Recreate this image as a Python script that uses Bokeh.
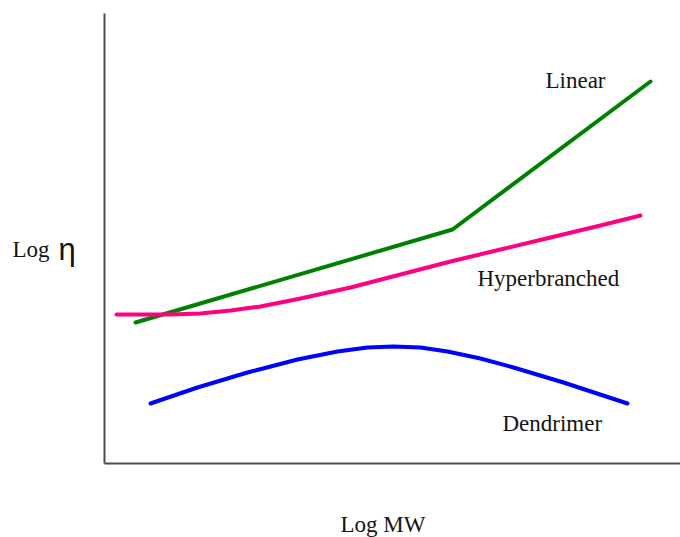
from bokeh.plotting import figure
from bokeh.models import Range1d, Label, FixedTicker, LinearAxis
from bokeh.embed import file_html
from bokeh.resources import INLINE

# Schematic curves of log viscosity versus log molecular weight (arbitrary units)
linear_x = [31, 348, 546]
linear_y = [141, 234, 382]

hyper_x = [12, 66, 96, 126, 156, 196, 246, 296, 346, 396, 446, 496, 536]
hyper_y = [149, 149, 150, 153, 157, 165, 176, 189, 202, 214, 226, 238, 248]

dend_x = [46, 93, 143, 193, 233, 263, 289, 316, 343, 376, 409, 459, 523]
dend_y = [60, 76, 91, 104, 112, 116, 117, 116, 112, 105, 96, 81, 60]

series_names = ["Linear", "Hyperbranched", "Dendrimer"]
series_label_pos = [(441, 383), (373, 185), (398, 40)]

X_MAX, Y_MAX = 576, 450

p = figure(width=680, height=537, min_border=0,
           x_range=Range1d(-104, X_MAX), y_range=Range1d(-74, 463),
           x_axis_location=None, y_axis_location=None,
           output_backend="svg", toolbar_location=None,
           background_fill_color="white", border_fill_color="white")
p.outline_line_color = None
p.grid.visible = False

# axes drawn through the data origin, without ticks
for side, bounds in (("below", (0, X_MAX)), ("left", (0, Y_MAX))):
    ax = LinearAxis(fixed_location=0, bounds=bounds, ticker=FixedTicker(ticks=[]),
                    major_tick_line_color=None, minor_tick_line_color=None,
                    major_tick_out=0, major_label_standoff=0,
                    major_label_text_font_size="0px",
                    axis_line_color="#4d4d4d", axis_line_width=2)
    p.add_layout(ax, side)

p.line(linear_x, linear_y, line_color="#008000", line_width=4, line_cap="round", line_join="round")
p.line(hyper_x, hyper_y, line_color="#ff0080", line_width=4, line_cap="round", line_join="round")
p.line(dend_x, dend_y, line_color="#0000ff", line_width=4, line_cap="round", line_join="round")

serif = "Liberation Serif"
ink = "#141414"
for name, (lx, ly) in zip(series_names, series_label_pos):
    p.add_layout(Label(x=lx, y=ly, text=name, text_font=serif, text_font_size="23px",
                       text_color=ink, text_baseline="alphabetic"))

# axis titles
p.add_layout(Label(x=236, y=-61, text="Log MW", text_font=serif, text_font_size="23px",
                   text_color=ink, text_baseline="alphabetic"))
p.add_layout(Label(x=-92, y=214, text="Log", text_font=serif, text_font_size="23px",
                   text_color=ink, text_baseline="alphabetic"))
p.add_layout(Label(x=-46, y=214, text="η", text_font="Liberation Sans", text_font_size="31px",
                   text_color=ink, text_baseline="alphabetic"))

open("out.html", "w").write(file_html(p, INLINE))
